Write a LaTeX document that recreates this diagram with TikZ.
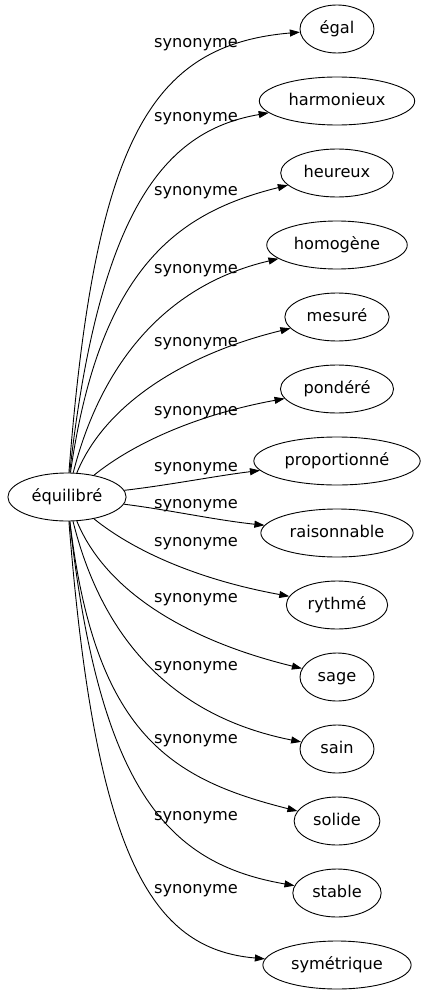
\documentclass[tikz,border=0pt]{standalone}
\usepackage{fontspec}
\setmainfont{DejaVu Sans}
\usetikzlibrary{shapes.geometric,arrows.meta}

\tikzset{
  mot/.style={ellipse,draw,line width=0.9pt,minimum width=74pt,minimum height=48pt,
    inner xsep=6.5pt,inner ysep=0pt,text height=12pt,text depth=3.5pt,
    font=\fontsize{16.2}{19}\selectfont},
  lien/.style={line width=0.9pt,-{Triangle[length=10pt,width=7pt]}},
  etiq/.style={inner sep=0pt,text height=12pt,text depth=3.5pt,
    font=\fontsize{16.2}{19}\selectfont}
}

\begin{document}
\begin{tikzpicture}[x=1pt,y=-1pt]
\useasboundingbox (0,0) rectangle (424,995);
\node[mot] at (67,497) (E) {équilibré};
\node[mot] at (337,29) (egal) {égal};
\node[mot] at (337,101) (harm) {harmonieux};
\node[mot] at (337,173) (heur) {heureux};
\node[mot] at (337,245) (homo) {homogène};
\node[mot] at (337,317) (mesu) {mesuré};
\node[mot] at (337,389) (pond) {pondéré};
\node[mot] at (337,461) (prop) {proportionné};
\node[mot] at (337,533) (rais) {raisonnable};
\node[mot] at (337,605) (ryth) {rythmé};
\node[mot] at (337,677) (sage) {sage};
\node[mot] at (337,749) (sain) {sain};
\node[mot] at (337,821) (soli) {solide};
\node[mot] at (337,893) (stab) {stable};
\node[mot] at (337,965) (syme) {symétrique};
% les liens
\draw[lien] (E) .. controls (95,140) and (150,45) .. (egal);
\draw[lien] (E) .. controls (100,200) and (170,130) .. (harm);
\draw[lien] (E) .. controls (100,265) and (180,212) .. (heur);
\draw[lien] (E) .. controls (100,368) and (162,286) .. (homo);
\draw[lien] (E) .. controls (105,404) and (185,354) .. (mesu);
\draw[lien] (E) .. controls (135,442) and (200,414) .. (pond);
\draw[lien] (E) .. controls (170,485) and (215,476) .. (prop);
\draw[lien] (E) .. controls (170,510) and (215,520) .. (rais);
\draw[lien] (E) .. controls (135,552) and (200,580) .. (ryth);
\draw[lien] (E) .. controls (105,590) and (185,640) .. (sage);
\draw[lien] (E) .. controls (100,630) and (165,715) .. (sain);
\draw[lien] (E) .. controls (95,734) and (170,779) .. (soli);
\draw[lien] (E) .. controls (100,794) and (170,864) .. (stab);
\draw[lien] (E) .. controls (95,854) and (150,949) .. (syme);
% les etiquettes
\node[etiq] at (196,43.5) (s1) {synonyme};
\node[etiq] at (196,117.5) (s2) {synonyme};
\node[etiq] at (196,191.5) (s3) {synonyme};
\node[etiq] at (196,269.5) (s4) {synonyme};
\node[etiq] at (196,342.5) (s5) {synonyme};
\node[etiq] at (196,411.5) (s6) {synonyme};
\node[etiq] at (196,467.5) (s7) {synonyme};
\node[etiq] at (196,504.5) (s8) {synonyme};
\node[etiq] at (196,542.5) (s9) {synonyme};
\node[etiq] at (196,598.5) (s10) {synonyme};
\node[etiq] at (196,666.5) (s11) {synonyme};
\node[etiq] at (196,739.5) (s12) {synonyme};
\node[etiq] at (196,816.5) (s13) {synonyme};
\node[etiq] at (196,889.5) (s14) {synonyme};
\end{tikzpicture}
\end{document}
